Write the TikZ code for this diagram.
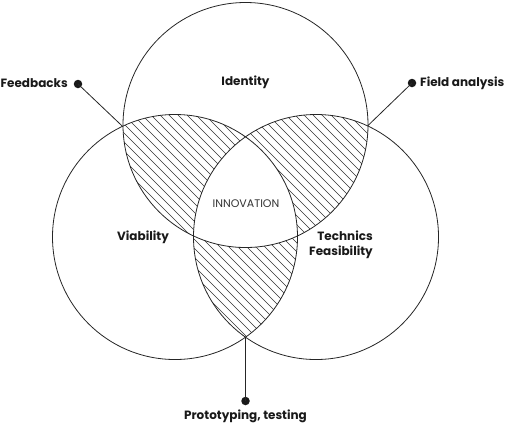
\documentclass[tikz,border=0pt]{standalone}
\usepackage{fontspec}
\setmainfont{Poppins}
\tikzset{
  ring/.style={draw=black!85, line width=0.8pt},
  hatch/.style={draw=black!80, line width=0.6pt},
  lead/.style={draw=black!85, line width=0.8pt},
  pin/.style={circle, fill=black!90, inner sep=0pt, minimum size=8.5pt},
  lbl/.style={font=\bfseries\fontsize{12}{15}\selectfont, text=black!90, inner sep=0pt},
  lightlbl/.style={font=\fontsize{11}{13}\selectfont, text=black!80, inner sep=0pt}
}
\def\Tc{(245.5,125)}
\def\Lc{(175,237)}
\def\Rc{(316,237)}
\def\rad{122.5}
\newcommand{\hatchlines}{%
  \foreach \c in {-441,-432,...,520} {\draw[hatch] (\c,0) -- (\c+430,430);}%
}
\begin{document}
\begin{tikzpicture}[x=1pt,y=-1pt]
\useasboundingbox (0,0) rectangle (510,429);
% hatched pairwise intersections
\begin{scope}\clip \Tc circle (\rad); \clip \Lc circle (\rad); \hatchlines \end{scope}
\begin{scope}\clip \Tc circle (\rad); \clip \Rc circle (\rad); \hatchlines \end{scope}
\begin{scope}\clip \Lc circle (\rad); \clip \Rc circle (\rad); \hatchlines \end{scope}
% triple intersection white
\begin{scope}\clip \Tc circle (\rad); \clip \Lc circle (\rad); \fill[white] \Rc circle (\rad); \end{scope}
% circles
\draw[ring] \Tc circle (\rad);
\draw[ring] \Lc circle (\rad);
\draw[ring] \Rc circle (\rad);
% intersection points
\coordinate (pTL) at (122.5,126.3);
\coordinate (pTR) at (367.7,125.8);
\coordinate (pLR) at (245.5,337);
% pins
\node[pin] (dFB) at (78,84) {};
\node[pin] (dFA) at (412,83) {};
\node[pin] (dPT) at (245.5,401) {};
\draw[lead] (dFB.center) -- (pTL);
\draw[lead] (dFA.center) -- (pTR);
\draw[lead] (dPT.center) -- (pLR);
% labels
\node[lbl, anchor=east] (tFB) at (68,83) {Feedbacks};
\node[lbl, anchor=west] (tFA) at (420,83) {Field analysis};
\node[lbl] (tPT) at (245.5,416) {Prototyping, testing};
\node[lbl] (tID) at (245.5,82) {Identity};
\node[lbl] (tVI) at (143,237) {Viability};
\node[lbl, align=right, anchor=east] (tTF) at (373,244.5) {Technics\\Feasibility};
\node[lightlbl] (tIN) at (246,204) {INNOVATION};
\end{tikzpicture}
\end{document}
